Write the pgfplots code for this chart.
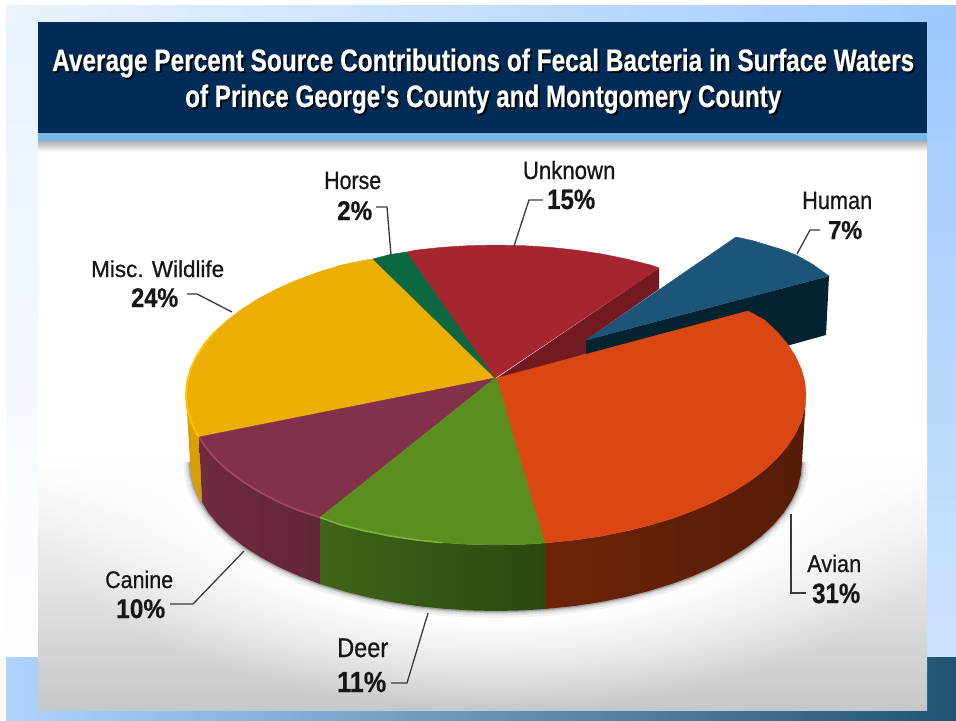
\documentclass[border=0pt]{standalone}
\usepackage{graphicx}
\usepackage{fontspec}
\setmainfont{Liberation Sans}
\newfontfamily\medfont[FakeBold=0.7]{Liberation Sans}
\newfontfamily\heavyfont[FakeBold=0.5]{Liberation Sans Bold}
\usepackage{pgfplots}
\usepackage{pgfplotstable}
\usetikzlibrary{fadings}
\pgfplotsset{compat=1.18}

\definecolor{navy}{HTML}{012C57}
\definecolor{stripe}{HTML}{78B8E4}
\definecolor{inkc}{HTML}{161616}
\definecolor{leader}{HTML}{3A3A3C}
\definecolor{cAvian}{HTML}{DA4712}
\definecolor{cDeer}{HTML}{5A8F20}
\definecolor{cCanine}{HTML}{83314A}
\definecolor{cWild}{HTML}{ECAE00}
\definecolor{cHorse}{HTML}{0B6840}
\definecolor{cUnknown}{HTML}{A5262E}
\definecolor{cHuman}{HTML}{1D5578}
\definecolor{cHumanSide}{HTML}{04222F}
\definecolor{cUnknownCut}{HTML}{731A20}
\definecolor{rimWild}{HTML}{FFC200}
\definecolor{rimCanine}{HTML}{A34A63}
\definecolor{rimDeer}{HTML}{7DB43A}
\definecolor{wallWild}{HTML}{D99F00}

% Soft white glow around the pie
\pgfdeclareradialshading{haloshade}{\pgfpointorigin}{color(0bp)=(white); color(15bp)=(white); color(25bp)=(black); color(50bp)=(black)}
\pgfdeclarefading{halo}{\pgfuseshading{haloshade}}

% Front rim of the pie base, used for the soft contact shadow
\pgfplotstableread{
x y
190 462
191.2 475
194.6 487.9
200.4 500.6
208.5 513
218.7 525
231 536.5
245.3 547.5
261.6 557.8
279.6 567.4
299.3 576.1
320 584
343 591
366.7 597
391.3 602
416.8 605.9
442.9 608.7
469.3 610.4
496 611
522.7 610.4
549.1 608.7
575.2 605.9
600.7 602
625.3 597
649 591
671.5 584
692.7 576.1
712.4 567.4
730.4 557.8
746.7 547.5
761 536.5
773.3 525
783.5 513
791.6 500.6
797.4 487.9
800.8 475
802 462
}\baseedge

% Label text: x, baseline y, font size, target width, text
\newcommand\lbl[5]{\node[anchor=base west,inner sep=0pt,text=inkc] at (axis cs:#1,#2)
  {\resizebox{#4bp}{\height}{\fontsize{#3bp}{#3bp}\medfont\selectfont #5}};}
\newcommand\lblb[5]{\node[anchor=base west,inner sep=0pt,text=inkc] at (axis cs:#1,#2)
  {\resizebox{#4bp}{\height}{\fontsize{#3bp}{#3bp}\heavyfont\selectfont #5}};}
\newcommand\ttl[1]{\fontsize{31bp}{31bp}\heavyfont\selectfont #1}

\begin{document}
\begin{tikzpicture}
\begin{axis}[
  width=956bp, height=721bp, scale only axis,
  xmin=0, xmax=956, ymin=0, ymax=721, y dir=reverse,
  axis lines=none, clip=true,
  tick style={draw=none}, xtick=\empty, ytick=\empty,
  top/.style={draw=#1,fill=#1,line width=.4bp,line join=round},
]
% page background
\addplot[draw=none,fill=white] coordinates {(0,0)(956,0)(956,721)(0,721)} --cycle;
\addplot[draw=none,left color={rgb,255:red,234;green,243;blue,254},right color={rgb,255:red,158;green,201;blue,252}] coordinates {(6,6)(956,6)(956,30)(6,30)} --cycle;
\addplot[draw=none,top color={rgb,255:red,232;green,242;blue,254},bottom color={rgb,255:red,254;green,254;blue,255}] coordinates {(6,22)(40,22)(40,658)(6,658)} --cycle;
\addplot[draw=none,top color={rgb,255:red,158;green,201;blue,252},bottom color={rgb,255:red,204;green,227;blue,254}] coordinates {(925,22)(956,22)(956,658)(925,658)} --cycle;
\addplot[draw=none,left color={rgb,255:red,174;green,212;blue,255},right color={rgb,255:red,31;green,84;blue,115}] coordinates {(6,657)(956,657)(956,721)(6,721)} --cycle;

% white panel fading to grey
\addplot[draw=none,fill=white] coordinates {(38,133)(927,133)(927,460)(38,460)} --cycle;
\addplot[draw=none,top color=white,bottom color={rgb,255:red,198;green,199;blue,201}] coordinates {(38,459)(927,459)(927,710)(38,710)} --cycle;
\begin{scope}
\clip (axis cs:38,133) rectangle (axis cs:927,710);
\fill[white,path fading=halo] (axis cs:496,475) ellipse [x radius=480, y radius=235];
\end{scope}

% title band
\addplot[draw=none,top color={rgb,255:red,170;green,170;blue,170},bottom color=white] coordinates {(38,140)(927,140)(927,152)(38,152)} --cycle;
\addplot[draw=none,fill=stripe] coordinates {(38,132)(927,132)(927,141)(38,141)} --cycle;
\addplot[draw=none,fill=navy] coordinates {(38,22)(927,22)(927,133)(38,133)} --cycle;

\begin{scope}[opacity=.75]
\node[anchor=base west,inner sep=0pt,text=black] at (axis cs:54,73) {\resizebox{862bp}{\height}{\ttl{Average Percent Source Contributions of Fecal Bacteria in Surface Waters}}};
\node[anchor=base west,inner sep=0pt,text=black] at (axis cs:187,109) {\resizebox{596bp}{\height}{\ttl{of Prince George's County and Montgomery County}}};
\end{scope}
\node[anchor=base west,inner sep=0pt,text=white] at (axis cs:52,71) {\resizebox{862bp}{\height}{\ttl{Average Percent Source Contributions of Fecal Bacteria in Surface Waters}}};
\node[anchor=base west,inner sep=0pt,text=white] at (axis cs:185,107) {\resizebox{596bp}{\height}{\ttl{of Prince George's County and Montgomery County}}};

% soft shadow under the pie
\addplot[black,opacity=.05,line width=14bp] table {\baseedge};
\addplot[black,opacity=.07,line width=9bp] table {\baseedge};
\addplot[black,opacity=.12,line width=5bp] table {\baseedge};
\addplot[black,opacity=.18,line width=2.5bp] table {\baseedge};

% cut face of the Unknown wedge
\addplot[draw=none,fill=cUnknownCut] coordinates {(497,378)(659,268)(659,289)(586,340)(586,354)(510,376)} --cycle;

% pulled-out Human wedge
\addplot[draw=none,fill=cHumanSide] coordinates {(586,340)(829,276)(826,335)(790,345)(680,375)(586,354)} --cycle;
\addplot[top=cHuman] coordinates {(586,340)(736,237)(752,240.5)(767,245)(782,249.5)(797,255.5)(813,264.5)(829,276)} --cycle;

% outer walls of the pie
\addplot[draw=none,fill=wallWild] coordinates {(186,395)(187.2,408.1)(190.7,421)(196.6,433.8)(199,437)(202,502)(200.4,500.6)(194.6,487.9)(191.2,475)(190,462)} --cycle;
\addplot[draw=none,left color={rgb,255:red,111;green,42;blue,62},right color={rgb,255:red,100;green,37;blue,56}] coordinates {(199,437)(204.7,446.3)(215,458.4)(227.5,470)(242,481)(258.5,491.4)(276.8,501.1)(296.7,509.9)(320,517.4)(320,584)(299.3,576.1)(279.6,567.4)(261.6,557.8)(245.3,547.5)(231,536.5)(218.7,525)(208.5,513)(202,502)} --cycle;
\addplot[draw=none,left color={rgb,255:red,64;green,100;blue,24},right color={rgb,255:red,42;green,72;blue,16}] coordinates {(320,517.4)(341,524.9)(365,530.9)(390,536)(415.8,539.9)(442.2,542.7)(469,544.4)(496,545)(523,544.4)(545,543)(545,609)(522.7,610.4)(496,611)(469.3,610.4)(442.9,608.7)(416.8,605.9)(391.3,602)(366.7,597)(343,591)(320,584)} --cycle;
\addplot[draw=none,left color={rgb,255:red,108;green,36;blue,8},right color={rgb,255:red,86;green,27;blue,8}] coordinates {(545,543)(576.2,539.9)(602,536)(627,530.9)(651,524.9)(673.8,517.9)(695.3,509.9)(715.2,501.1)(733.5,491.4)(750,481)(764.5,470)(777,458.4)(787.3,446.3)(795.4,433.8)(801.3,421)(804.8,408.1)(806,395)(802,462)(800.8,475)(797.4,487.9)(791.6,500.6)(783.5,513)(773.3,525)(761,536.5)(746.7,547.5)(730.4,557.8)(712.4,567.4)(692.7,576.1)(671.5,584)(649,591)(625.3,597)(600.7,602)(575.2,605.9)(545,609)} --cycle;

% top faces of the remaining slices
\addplot[top=cWild] coordinates {(495,378)(199,437)(196.6,433.8)(190.7,421)(187.2,408.1)(186,395)(187.2,381.9)(190.7,369)(196.6,356.2)(204.7,343.7)(215,331.6)(227.5,320)(242,309)(258.5,298.6)(276.8,288.9)(296.7,280.1)(318.2,272.1)(341,265.1)(365,260.1)(373,259)} --cycle;
\addplot[top=cHorse] coordinates {(495,378)(373,259)(390,254.5)(407,252)} --cycle;
\addplot[top=cUnknown] coordinates {(495,378)(407,252)(415.8,250.1)(442.2,247.3)(469,245.6)(496,245)(523,245.6)(549.8,247.3)(576.2,250.1)(602,254)(627,259.1)(651,265.1)(659,268)} --cycle;
\addplot[top=cCanine] coordinates {(495,378)(199,437)(204.7,446.3)(215,458.4)(227.5,470)(242,481)(258.5,491.4)(276.8,501.1)(296.7,509.9)(320,517.4)} --cycle;
\addplot[top=cDeer] coordinates {(495,378)(320,517.4)(341,524.9)(365,530.9)(390,536)(415.8,539.9)(442.2,542.7)(469,544.4)(496,545)(523,544.4)(545,543)(497,378)} --cycle;
\addplot[top=cAvian] coordinates {(497,378)(748,311)(764.5,320)(777,331.6)(787.3,343.7)(795.4,356.2)(801.3,369)(804.8,381.9)(806,395)(804.8,408.1)(801.3,421)(795.4,433.8)(787.3,446.3)(777,458.4)(764.5,470)(750,481)(733.5,491.4)(715.2,501.1)(695.3,509.9)(673.8,517.9)(651,524.9)(627,530.9)(602,536)(576.2,539.9)(545,543)} --cycle;

% highlights along the rim
\addplot[color=rimWild,line width=2bp,line cap=round] coordinates {(199,437)(196.6,433.8)(190.7,421)(187.2,408.1)(186,395)(187.2,381.9)(190.7,369)(196.6,356.2)(204.7,343.7)(215,331.6)};
\addplot[color=rimCanine,line width=1.6bp] coordinates {(199,437)(204.7,446.3)(215,458.4)(227.5,470)(242,481)(258.5,491.4)(276.8,501.1)(296.7,509.9)(320,517.4)};
\addplot[color=rimDeer,line width=1.6bp] coordinates {(320,517.4)(341,524.9)(365,530.9)(390,536)(415.8,539.9)(442.2,542.7)};

% leader lines
\addplot[color=leader,line width=1.3bp] coordinates {(797,254)(810,230)(820,230)};
\addplot[color=leader,line width=1.3bp] coordinates {(514,246)(529,200)(543,200)};
\addplot[color=leader,line width=1.3bp] coordinates {(376,207)(387,207)(391,255)};
\addplot[color=leader,line width=1.3bp] coordinates {(187,294)(197,294)(232,312)};
\addplot[color=leader,line width=1.3bp] coordinates {(170,604)(193,604)(244,551)};
\addplot[color=leader,line width=1.3bp] coordinates {(391,683)(407,683)(428,613)};
\addplot[color=leader,line width=1.3bp] coordinates {(791,514)(791,593)(806,593)};

% slice labels
\lbl{802}{209}{25}{70}{Human}
\lblb{828}{239}{26}{34}{7\%}
\lbl{522.7}{179}{25}{92.5}{Unknown}
\lblb{547}{209}{28}{48}{15\%}
\lbl{324}{189}{25}{57}{Horse}
\lblb{337}{220}{27}{35}{2\%}
\lbl{91}{277}{23}{133}{Misc. Wildlife}
\lblb{131}{307}{27}{47}{24\%}
\lbl{105}{588}{24}{68}{Canine}
\lblb{116}{618}{27}{49}{10\%}
\lbl{337}{657}{27}{51}{Deer}
\lblb{337}{692}{29}{49}{11\%}
\lbl{807}{572}{24}{54}{Avian}
\lblb{812}{603}{28}{48}{31\%}
\end{axis}
\end{tikzpicture}
\end{document}
